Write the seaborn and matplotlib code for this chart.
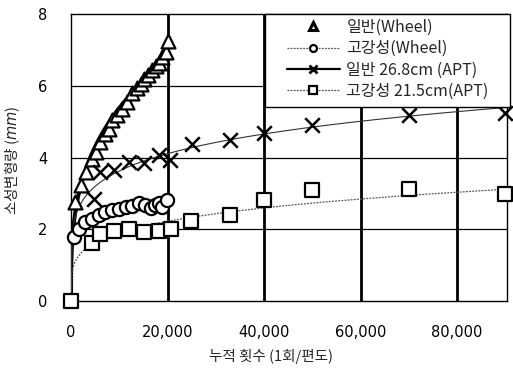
import numpy as np
import pandas as pd
import matplotlib
matplotlib.use("Agg")
import matplotlib.pyplot as plt
from matplotlib.lines import Line2D
from matplotlib.patches import Rectangle
import seaborn as sns

# ---- data ----
tri_x = [900, 2000, 3200, 4300, 5100, 6100, 7000, 7900, 8600, 9600, 10600, 11600,
         12700, 13700, 14500, 15100, 16000, 16800, 17600, 18200, 18900, 19600, 20200]
tri_y = [2.75, 3.25, 3.6, 3.95, 4.15, 4.45, 4.65, 4.8, 5.05, 5.2, 5.35, 5.55,
         5.8, 5.95, 6.05, 6.2, 6.3, 6.45, 6.55, 6.65, 6.8, 6.95, 7.25]

cir_x = [600, 1600, 3000, 4400, 5800, 7150, 8500, 9900, 11300, 12700, 14100,
         15400, 16500, 17500, 18200, 18900, 19900]
cir_y = [1.78, 2.02, 2.2, 2.3, 2.4, 2.48, 2.53, 2.58, 2.62, 2.64, 2.73,
         2.68, 2.6, 2.68, 2.74, 2.62, 2.83]

x_x = [4750, 6100, 8900, 12000, 15100, 18200, 20600, 25000, 33000, 39900, 50000, 70000, 90000]
x_y = [2.85, 3.6, 3.66, 3.88, 3.86, 4.07, 3.93, 4.37, 4.5, 4.68, 4.9, 5.2, 5.25]

sq_x = [0, 4400, 6100, 8900, 12000, 15100, 18200, 20700, 24900, 32900, 39900, 50000, 70000, 90000]
sq_y = [0.0, 1.61, 1.86, 1.96, 2.0, 1.93, 1.94, 2.0, 2.23, 2.4, 2.82, 3.1, 3.12, 2.98]

labels = ["일반(Wheel)", "고강성(Wheel)", "일반 26.8cm (APT)", "고강성 21.5cm(APT)"]
x_ticks = [0, 20000, 40000, 60000, 80000]
x_tick_labels = ["0", "20,000", "40,000", "60,000", "80,000"]
y_ticks = [0, 2, 4, 6, 8]

# ---- style ----
sns.set_theme(style="white")
plt.rcParams['font.family'] = ['DejaVu Sans', 'Noto Sans CJK KR']
plt.rcParams['axes.unicode_minus'] = False
KR = ['Noto Sans CJK KR', 'DejaVu Sans']

W, H = 513, 368
fig = plt.figure(figsize=(W / 100, H / 100), dpi=100)
ax = fig.add_axes([71 / W, 1 - 301 / H, (506.7 - 71) / W, (301 - 14.3) / H])


def power_fit(xs, ys, xmax):
    xs = np.asarray(xs, float)
    ys = np.asarray(ys, float)
    m = xs > 0
    b, lna = np.polyfit(np.log(xs[m]), np.log(ys[m]), 1)
    gx = np.linspace(0, xmax, 400)
    return pd.DataFrame({"x": gx, "y": np.exp(lna) * gx ** b})


# fitted trend lines
f_tri = power_fit(tri_x, tri_y, 20200)
f_cir = power_fit(cir_x, cir_y, 20000)
f_x = power_fit(x_x, x_y, 90300)
f_sq = power_fit(sq_x, sq_y, 90300)

sns.lineplot(data=f_tri, x="x", y="y", ax=ax, color="black", lw=2.8, zorder=3)
sns.lineplot(data=f_cir, x="x", y="y", ax=ax, color="#555555", lw=0.9, ls=(0, (1.5, 1)), zorder=3)
sns.lineplot(data=f_x, x="x", y="y", ax=ax, color="#333333", lw=0.8, zorder=3)
sns.lineplot(data=f_sq, x="x", y="y", ax=ax, color="#555555", lw=0.9, ls=(0, (1.5, 1)), zorder=3)

mk = dict(facecolor="white", edgecolor="black", linewidth=1.6, zorder=5, clip_on=False, legend=False)
sns.scatterplot(x=tri_x, y=tri_y, ax=ax, marker="^", s=100, **mk)
sns.scatterplot(x=cir_x, y=cir_y, ax=ax, marker="o", s=90, **mk)
sns.scatterplot(x=sq_x, y=sq_y, ax=ax, marker="s", s=110, **mk)
sns.scatterplot(x=x_x, y=x_y, ax=ax, marker="x", s=110, color="black", linewidth=1.8,
                zorder=5, clip_on=False, legend=False)

ax.set_xlim(0, 90300)
ax.set_ylim(0, 8)
ax.set_xticks(x_ticks)
ax.set_xticklabels(x_tick_labels)
ax.set_yticks(y_ticks)
ax.tick_params(axis="both", length=0, labelsize=10.5, colors="black")
ax.tick_params(axis="x", pad=17)
ax.tick_params(axis="y", pad=17)

for v in [2, 4, 6]:
    ax.axhline(v, color="black", lw=0.9, zorder=1)
for v in [20000, 40000, 60000, 80000]:
    ax.axvline(v, color="black", lw=2.0, zorder=1)
for s in ax.spines.values():
    s.set_color("black")
    s.set_linewidth(1.0)

ax.set_xlabel("누적 횟수 (1회/편도)", fontsize=10.5, family=KR)
ax.xaxis.set_label_coords((271 - 71) / (506.7 - 71), -(349 - 301) / (301 - 14.3))
ax.set_ylabel("소성변형량 ($\\mathit{mm}$)", fontsize=10.5, family=KR)
ax.yaxis.set_label_coords(-(71 - 22) / (506.7 - 71), 0.49)

# legend box (frame drawn separately to match the reference padding)
box = Rectangle((265 / W, 1 - 107 / H), (509.5 - 265) / W, (107 - 14.5) / H,
                transform=fig.transFigure, facecolor="white", edgecolor="black",
                lw=1.0, zorder=9)
ax.add_artist(box)
box.set_clip_on(False)

handles = [
    Line2D([], [], ls="none", marker="^", ms=6, mfc="white", mec="black", mew=2.2),
    Line2D([], [], color="#555555", lw=0.9, ls=(0, (1.5, 1)), marker="o", ms=5, mfc="white", mec="black", mew=1.6),
    Line2D([], [], color="black", lw=1.6, marker="x", ms=6, mec="black", mew=2.0),
    Line2D([], [], color="#555555", lw=0.9, ls=(0, (1.5, 1)), marker="s", ms=5.5, mfc="white", mec="black", mew=1.6),
]
leg = ax.legend(handles, labels, loc="upper left",
                bbox_to_anchor=(287 / W, 1 - 19 / H), bbox_transform=fig.transFigure,
                borderaxespad=0, borderpad=0, frameon=False,
                handlelength=3.3, handletextpad=0.42, labelspacing=0.27,
                prop={'family': KR, 'size': 11.5})
leg.set_zorder(10)

fig.savefig("out.png", dpi=100)
